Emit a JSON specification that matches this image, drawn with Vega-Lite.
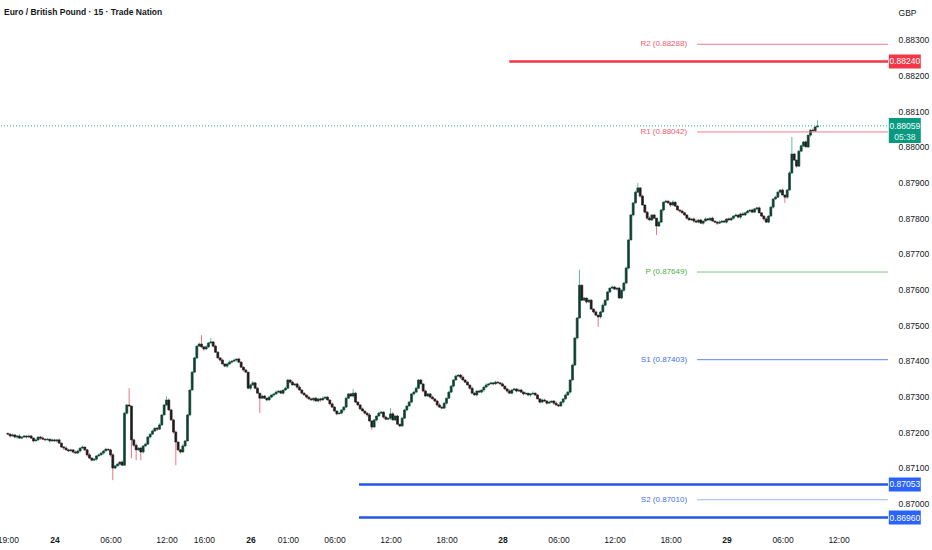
{
"$schema": "https://vega.github.io/schema/vega-lite/v6.json",
"width": 893, "height": 528,
"autosize": "none",
"padding": {"left": 0, "top": 0, "right": 39, "bottom": 22},
"background": "#ffffff",
"config": {"view": {"stroke": null}, "font": "Liberation Sans"},
"title": {"text": "Euro / British Pound · 15 · Trade Nation", "anchor": "start", "frame": "group", "offset": -16, "dx": 4, "fontSize": 8.5, "fontWeight": "bold", "color": "#131722", "font": "Liberation Sans Narrow, Liberation Sans"},
"resolve": {"scale": {"color": "independent"}},
"datasets": {
"candles": [
{"k":0,"o":0.87196,"h":0.87199,"l":0.87192,"c":0.87194},
{"k":1,"o":0.87194,"h":0.87196,"l":0.87185,"c":0.87189},
{"k":2,"o":0.87189,"h":0.87196,"l":0.87188,"c":0.87192},
{"k":3,"o":0.87192,"h":0.87193,"l":0.87183,"c":0.87186},
{"k":4,"o":0.87186,"h":0.87192,"l":0.87181,"c":0.87189},
{"k":5,"o":0.87189,"h":0.87194,"l":0.87181,"c":0.87183},
{"k":6,"o":0.87183,"h":0.87188,"l":0.87180,"c":0.87186},
{"k":7,"o":0.87186,"h":0.87192,"l":0.87185,"c":0.87189},
{"k":8,"o":0.87189,"h":0.87190,"l":0.87182,"c":0.87186},
{"k":9,"o":0.87186,"h":0.87193,"l":0.87184,"c":0.87189},
{"k":10,"o":0.87189,"h":0.87192,"l":0.87181,"c":0.87183},
{"k":11,"o":0.87183,"h":0.87185,"l":0.87171,"c":0.87175},
{"k":12,"o":0.87175,"h":0.87182,"l":0.87174,"c":0.87178},
{"k":13,"o":0.87178,"h":0.87187,"l":0.87175,"c":0.87186},
{"k":14,"o":0.87186,"h":0.87189,"l":0.87178,"c":0.87183},
{"k":15,"o":0.87183,"h":0.87188,"l":0.87178,"c":0.87180},
{"k":16,"o":0.87180,"h":0.87182,"l":0.87175,"c":0.87178},
{"k":17,"o":0.87178,"h":0.87183,"l":0.87177,"c":0.87180},
{"k":18,"o":0.87180,"h":0.87181,"l":0.87171,"c":0.87175},
{"k":19,"o":0.87175,"h":0.87182,"l":0.87173,"c":0.87178},
{"k":20,"o":0.87178,"h":0.87181,"l":0.87173,"c":0.87175},
{"k":21,"o":0.87175,"h":0.87180,"l":0.87171,"c":0.87178},
{"k":22,"o":0.87178,"h":0.87182,"l":0.87168,"c":0.87169},
{"k":23,"o":0.87169,"h":0.87170,"l":0.87155,"c":0.87158},
{"k":24,"o":0.87158,"h":0.87161,"l":0.87150,"c":0.87155},
{"k":25,"o":0.87155,"h":0.87160,"l":0.87148,"c":0.87150},
{"k":26,"o":0.87150,"h":0.87152,"l":0.87144,"c":0.87147},
{"k":27,"o":0.87147,"h":0.87153,"l":0.87146,"c":0.87150},
{"k":28,"o":0.87150,"h":0.87151,"l":0.87140,"c":0.87144},
{"k":29,"o":0.87144,"h":0.87148,"l":0.87139,"c":0.87141},
{"k":30,"o":0.87141,"h":0.87150,"l":0.87139,"c":0.87147},
{"k":31,"o":0.87147,"h":0.87157,"l":0.87143,"c":0.87155},
{"k":32,"o":0.87155,"h":0.87162,"l":0.87154,"c":0.87158},
{"k":33,"o":0.87158,"h":0.87159,"l":0.87147,"c":0.87150},
{"k":34,"o":0.87150,"h":0.87153,"l":0.87131,"c":0.87136},
{"k":35,"o":0.87136,"h":0.87141,"l":0.87125,"c":0.87127},
{"k":36,"o":0.87127,"h":0.87129,"l":0.87118,"c":0.87121},
{"k":37,"o":0.87121,"h":0.87127,"l":0.87120,"c":0.87124},
{"k":38,"o":0.87124,"h":0.87134,"l":0.87120,"c":0.87133},
{"k":39,"o":0.87133,"h":0.87140,"l":0.87131,"c":0.87136},
{"k":40,"o":0.87136,"h":0.87144,"l":0.87134,"c":0.87141},
{"k":41,"o":0.87141,"h":0.87149,"l":0.87137,"c":0.87147},
{"k":42,"o":0.87147,"h":0.87156,"l":0.87146,"c":0.87152},
{"k":43,"o":0.87152,"h":0.87153,"l":0.87147,"c":0.87150},
{"k":44,"o":0.87150,"h":0.87153,"l":0.87131,"c":0.87136},
{"k":45,"o":0.87136,"h":0.87141,"l":0.87065,"c":0.87099},
{"k":46,"o":0.87099,"h":0.87107,"l":0.87096,"c":0.87105},
{"k":47,"o":0.87105,"h":0.87113,"l":0.87104,"c":0.87110},
{"k":48,"o":0.87110,"h":0.87117,"l":0.87106,"c":0.87116},
{"k":49,"o":0.87116,"h":0.87120,"l":0.87105,"c":0.87107},
{"k":50,"o":0.87107,"h":0.87256,"l":0.87105,"c":0.87253},
{"k":51,"o":0.87253,"h":0.87278,"l":0.87249,"c":0.87276},
{"k":52,"o":0.87276,"h":0.87323,"l":0.87272,"c":0.87273},
{"k":53,"o":0.87273,"h":0.87274,"l":0.87127,"c":0.87178},
{"k":54,"o":0.87178,"h":0.87181,"l":0.87158,"c":0.87163},
{"k":55,"o":0.87163,"h":0.87168,"l":0.87121,"c":0.87150},
{"k":56,"o":0.87150,"h":0.87157,"l":0.87147,"c":0.87155},
{"k":57,"o":0.87155,"h":0.87158,"l":0.87121,"c":0.87144},
{"k":58,"o":0.87144,"h":0.87162,"l":0.87140,"c":0.87161},
{"k":59,"o":0.87161,"h":0.87170,"l":0.87159,"c":0.87166},
{"k":60,"o":0.87166,"h":0.87189,"l":0.87164,"c":0.87186},
{"k":61,"o":0.87186,"h":0.87196,"l":0.87182,"c":0.87194},
{"k":62,"o":0.87194,"h":0.87207,"l":0.87193,"c":0.87203},
{"k":63,"o":0.87203,"h":0.87212,"l":0.87200,"c":0.87211},
{"k":64,"o":0.87211,"h":0.87214,"l":0.87203,"c":0.87208},
{"k":65,"o":0.87208,"h":0.87225,"l":0.87206,"c":0.87220},
{"k":66,"o":0.87220,"h":0.87250,"l":0.87217,"c":0.87248},
{"k":67,"o":0.87248,"h":0.87279,"l":0.87247,"c":0.87276},
{"k":68,"o":0.87276,"h":0.87301,"l":0.87272,"c":0.87290},
{"k":69,"o":0.87290,"h":0.87294,"l":0.87260,"c":0.87262},
{"k":70,"o":0.87262,"h":0.87265,"l":0.87232,"c":0.87234},
{"k":71,"o":0.87234,"h":0.87236,"l":0.87196,"c":0.87200},
{"k":72,"o":0.87200,"h":0.87204,"l":0.87107,"c":0.87172},
{"k":73,"o":0.87172,"h":0.87173,"l":0.87147,"c":0.87150},
{"k":74,"o":0.87150,"h":0.87153,"l":0.87139,"c":0.87144},
{"k":75,"o":0.87144,"h":0.87166,"l":0.87142,"c":0.87161},
{"k":76,"o":0.87161,"h":0.87177,"l":0.87158,"c":0.87175},
{"k":77,"o":0.87175,"h":0.87251,"l":0.87174,"c":0.87248},
{"k":78,"o":0.87248,"h":0.87319,"l":0.87244,"c":0.87318},
{"k":79,"o":0.87318,"h":0.87372,"l":0.87316,"c":0.87368},
{"k":80,"o":0.87368,"h":0.87411,"l":0.87366,"c":0.87408},
{"k":81,"o":0.87408,"h":0.87443,"l":0.87404,"c":0.87441},
{"k":82,"o":0.87441,"h":0.87451,"l":0.87440,"c":0.87447},
{"k":83,"o":0.87447,"h":0.87472,"l":0.87436,"c":0.87439},
{"k":84,"o":0.87439,"h":0.87442,"l":0.87428,"c":0.87433},
{"k":85,"o":0.87433,"h":0.87444,"l":0.87431,"c":0.87439},
{"k":86,"o":0.87439,"h":0.87452,"l":0.87436,"c":0.87450},
{"k":87,"o":0.87450,"h":0.87464,"l":0.87449,"c":0.87453},
{"k":88,"o":0.87453,"h":0.87454,"l":0.87437,"c":0.87441},
{"k":89,"o":0.87441,"h":0.87445,"l":0.87422,"c":0.87424},
{"k":90,"o":0.87424,"h":0.87427,"l":0.87406,"c":0.87408},
{"k":91,"o":0.87408,"h":0.87410,"l":0.87398,"c":0.87402},
{"k":92,"o":0.87402,"h":0.87406,"l":0.87390,"c":0.87391},
{"k":93,"o":0.87391,"h":0.87392,"l":0.87382,"c":0.87385},
{"k":94,"o":0.87385,"h":0.87394,"l":0.87380,"c":0.87391},
{"k":95,"o":0.87391,"h":0.87401,"l":0.87389,"c":0.87396},
{"k":96,"o":0.87396,"h":0.87401,"l":0.87393,"c":0.87399},
{"k":97,"o":0.87399,"h":0.87405,"l":0.87398,"c":0.87402},
{"k":98,"o":0.87402,"h":0.87406,"l":0.87398,"c":0.87405},
{"k":99,"o":0.87405,"h":0.87409,"l":0.87394,"c":0.87396},
{"k":100,"o":0.87396,"h":0.87399,"l":0.87380,"c":0.87382},
{"k":101,"o":0.87382,"h":0.87384,"l":0.87370,"c":0.87374},
{"k":102,"o":0.87374,"h":0.87378,"l":0.87367,"c":0.87368},
{"k":103,"o":0.87368,"h":0.87369,"l":0.87320,"c":0.87323},
{"k":104,"o":0.87323,"h":0.87335,"l":0.87318,"c":0.87332},
{"k":105,"o":0.87332,"h":0.87343,"l":0.87330,"c":0.87338},
{"k":106,"o":0.87338,"h":0.87340,"l":0.87320,"c":0.87323},
{"k":107,"o":0.87323,"h":0.87326,"l":0.87308,"c":0.87309},
{"k":108,"o":0.87309,"h":0.87310,"l":0.87253,"c":0.87295},
{"k":109,"o":0.87295,"h":0.87305,"l":0.87293,"c":0.87301},
{"k":110,"o":0.87301,"h":0.87304,"l":0.87293,"c":0.87295},
{"k":111,"o":0.87295,"h":0.87297,"l":0.87286,"c":0.87290},
{"k":112,"o":0.87290,"h":0.87302,"l":0.87289,"c":0.87298},
{"k":113,"o":0.87298,"h":0.87305,"l":0.87295,"c":0.87304},
{"k":114,"o":0.87304,"h":0.87310,"l":0.87299,"c":0.87307},
{"k":115,"o":0.87307,"h":0.87317,"l":0.87305,"c":0.87312},
{"k":116,"o":0.87312,"h":0.87317,"l":0.87309,"c":0.87315},
{"k":117,"o":0.87315,"h":0.87318,"l":0.87308,"c":0.87309},
{"k":118,"o":0.87309,"h":0.87319,"l":0.87305,"c":0.87318},
{"k":119,"o":0.87318,"h":0.87327,"l":0.87316,"c":0.87323},
{"k":120,"o":0.87323,"h":0.87349,"l":0.87321,"c":0.87346},
{"k":121,"o":0.87346,"h":0.87348,"l":0.87336,"c":0.87340},
{"k":122,"o":0.87340,"h":0.87344,"l":0.87331,"c":0.87332},
{"k":123,"o":0.87332,"h":0.87336,"l":0.87329,"c":0.87335},
{"k":124,"o":0.87335,"h":0.87338,"l":0.87321,"c":0.87326},
{"k":125,"o":0.87326,"h":0.87331,"l":0.87316,"c":0.87318},
{"k":126,"o":0.87318,"h":0.87320,"l":0.87306,"c":0.87309},
{"k":127,"o":0.87309,"h":0.87312,"l":0.87303,"c":0.87304},
{"k":128,"o":0.87304,"h":0.87305,"l":0.87294,"c":0.87298},
{"k":129,"o":0.87298,"h":0.87302,"l":0.87291,"c":0.87293},
{"k":130,"o":0.87293,"h":0.87296,"l":0.87288,"c":0.87290},
{"k":131,"o":0.87290,"h":0.87297,"l":0.87286,"c":0.87295},
{"k":132,"o":0.87295,"h":0.87299,"l":0.87286,"c":0.87287},
{"k":133,"o":0.87287,"h":0.87294,"l":0.87284,"c":0.87293},
{"k":134,"o":0.87293,"h":0.87296,"l":0.87285,"c":0.87290},
{"k":135,"o":0.87290,"h":0.87300,"l":0.87288,"c":0.87295},
{"k":136,"o":0.87295,"h":0.87300,"l":0.87292,"c":0.87298},
{"k":137,"o":0.87298,"h":0.87301,"l":0.87289,"c":0.87290},
{"k":138,"o":0.87290,"h":0.87291,"l":0.87275,"c":0.87279},
{"k":139,"o":0.87279,"h":0.87283,"l":0.87268,"c":0.87270},
{"k":140,"o":0.87270,"h":0.87273,"l":0.87257,"c":0.87259},
{"k":141,"o":0.87259,"h":0.87261,"l":0.87247,"c":0.87251},
{"k":142,"o":0.87251,"h":0.87257,"l":0.87250,"c":0.87253},
{"k":143,"o":0.87253,"h":0.87263,"l":0.87250,"c":0.87262},
{"k":144,"o":0.87262,"h":0.87273,"l":0.87257,"c":0.87270},
{"k":145,"o":0.87270,"h":0.87300,"l":0.87268,"c":0.87295},
{"k":146,"o":0.87295,"h":0.87309,"l":0.87292,"c":0.87307},
{"k":147,"o":0.87307,"h":0.87310,"l":0.87300,"c":0.87301},
{"k":148,"o":0.87301,"h":0.87321,"l":0.87297,"c":0.87309},
{"k":149,"o":0.87309,"h":0.87313,"l":0.87282,"c":0.87284},
{"k":150,"o":0.87284,"h":0.87287,"l":0.87274,"c":0.87276},
{"k":151,"o":0.87276,"h":0.87278,"l":0.87261,"c":0.87265},
{"k":152,"o":0.87265,"h":0.87269,"l":0.87258,"c":0.87259},
{"k":153,"o":0.87259,"h":0.87260,"l":0.87250,"c":0.87253},
{"k":154,"o":0.87253,"h":0.87256,"l":0.87243,"c":0.87248},
{"k":155,"o":0.87248,"h":0.87253,"l":0.87229,"c":0.87231},
{"k":156,"o":0.87231,"h":0.87233,"l":0.87206,"c":0.87214},
{"k":157,"o":0.87214,"h":0.87237,"l":0.87213,"c":0.87234},
{"k":158,"o":0.87234,"h":0.87246,"l":0.87230,"c":0.87245},
{"k":159,"o":0.87245,"h":0.87257,"l":0.87243,"c":0.87253},
{"k":160,"o":0.87253,"h":0.87259,"l":0.87251,"c":0.87256},
{"k":161,"o":0.87256,"h":0.87258,"l":0.87238,"c":0.87242},
{"k":162,"o":0.87242,"h":0.87246,"l":0.87235,"c":0.87236},
{"k":163,"o":0.87236,"h":0.87240,"l":0.87233,"c":0.87239},
{"k":164,"o":0.87239,"h":0.87267,"l":0.87234,"c":0.87251},
{"k":165,"o":0.87251,"h":0.87256,"l":0.87232,"c":0.87234},
{"k":166,"o":0.87234,"h":0.87247,"l":0.87231,"c":0.87245},
{"k":167,"o":0.87245,"h":0.87248,"l":0.87221,"c":0.87222},
{"k":168,"o":0.87222,"h":0.87223,"l":0.87213,"c":0.87217},
{"k":169,"o":0.87217,"h":0.87243,"l":0.87215,"c":0.87239},
{"k":170,"o":0.87239,"h":0.87265,"l":0.87237,"c":0.87262},
{"k":171,"o":0.87262,"h":0.87275,"l":0.87258,"c":0.87273},
{"k":172,"o":0.87273,"h":0.87288,"l":0.87272,"c":0.87284},
{"k":173,"o":0.87284,"h":0.87308,"l":0.87281,"c":0.87307},
{"k":174,"o":0.87307,"h":0.87315,"l":0.87302,"c":0.87312},
{"k":175,"o":0.87312,"h":0.87328,"l":0.87310,"c":0.87323},
{"k":176,"o":0.87323,"h":0.87348,"l":0.87320,"c":0.87346},
{"k":177,"o":0.87346,"h":0.87349,"l":0.87334,"c":0.87335},
{"k":178,"o":0.87335,"h":0.87336,"l":0.87311,"c":0.87315},
{"k":179,"o":0.87315,"h":0.87319,"l":0.87299,"c":0.87301},
{"k":180,"o":0.87301,"h":0.87310,"l":0.87299,"c":0.87307},
{"k":181,"o":0.87307,"h":0.87309,"l":0.87294,"c":0.87298},
{"k":182,"o":0.87298,"h":0.87302,"l":0.87292,"c":0.87293},
{"k":183,"o":0.87293,"h":0.87294,"l":0.87284,"c":0.87287},
{"k":184,"o":0.87287,"h":0.87290,"l":0.87271,"c":0.87276},
{"k":185,"o":0.87276,"h":0.87281,"l":0.87268,"c":0.87270},
{"k":186,"o":0.87270,"h":0.87272,"l":0.87264,"c":0.87267},
{"k":187,"o":0.87267,"h":0.87284,"l":0.87266,"c":0.87281},
{"k":188,"o":0.87281,"h":0.87296,"l":0.87277,"c":0.87295},
{"k":189,"o":0.87295,"h":0.87316,"l":0.87293,"c":0.87312},
{"k":190,"o":0.87312,"h":0.87332,"l":0.87310,"c":0.87329},
{"k":191,"o":0.87329,"h":0.87348,"l":0.87325,"c":0.87346},
{"k":192,"o":0.87346,"h":0.87361,"l":0.87345,"c":0.87357},
{"k":193,"o":0.87357,"h":0.87361,"l":0.87354,"c":0.87360},
{"k":194,"o":0.87360,"h":0.87363,"l":0.87349,"c":0.87354},
{"k":195,"o":0.87354,"h":0.87359,"l":0.87344,"c":0.87346},
{"k":196,"o":0.87346,"h":0.87348,"l":0.87337,"c":0.87340},
{"k":197,"o":0.87340,"h":0.87343,"l":0.87331,"c":0.87332},
{"k":198,"o":0.87332,"h":0.87333,"l":0.87319,"c":0.87323},
{"k":199,"o":0.87323,"h":0.87327,"l":0.87307,"c":0.87309},
{"k":200,"o":0.87309,"h":0.87312,"l":0.87302,"c":0.87304},
{"k":201,"o":0.87304,"h":0.87317,"l":0.87300,"c":0.87315},
{"k":202,"o":0.87315,"h":0.87319,"l":0.87311,"c":0.87312},
{"k":203,"o":0.87312,"h":0.87319,"l":0.87309,"c":0.87318},
{"k":204,"o":0.87318,"h":0.87329,"l":0.87313,"c":0.87326},
{"k":205,"o":0.87326,"h":0.87337,"l":0.87324,"c":0.87332},
{"k":206,"o":0.87332,"h":0.87337,"l":0.87329,"c":0.87335},
{"k":207,"o":0.87335,"h":0.87341,"l":0.87334,"c":0.87338},
{"k":208,"o":0.87338,"h":0.87339,"l":0.87331,"c":0.87335},
{"k":209,"o":0.87335,"h":0.87344,"l":0.87333,"c":0.87340},
{"k":210,"o":0.87340,"h":0.87343,"l":0.87336,"c":0.87338},
{"k":211,"o":0.87338,"h":0.87340,"l":0.87331,"c":0.87335},
{"k":212,"o":0.87335,"h":0.87339,"l":0.87328,"c":0.87329},
{"k":213,"o":0.87329,"h":0.87330,"l":0.87318,"c":0.87321},
{"k":214,"o":0.87321,"h":0.87324,"l":0.87310,"c":0.87315},
{"k":215,"o":0.87315,"h":0.87320,"l":0.87307,"c":0.87309},
{"k":216,"o":0.87309,"h":0.87320,"l":0.87306,"c":0.87318},
{"k":217,"o":0.87318,"h":0.87324,"l":0.87317,"c":0.87321},
{"k":218,"o":0.87321,"h":0.87322,"l":0.87311,"c":0.87315},
{"k":219,"o":0.87315,"h":0.87322,"l":0.87313,"c":0.87318},
{"k":220,"o":0.87318,"h":0.87321,"l":0.87310,"c":0.87312},
{"k":221,"o":0.87312,"h":0.87314,"l":0.87303,"c":0.87307},
{"k":222,"o":0.87307,"h":0.87313,"l":0.87306,"c":0.87309},
{"k":223,"o":0.87309,"h":0.87310,"l":0.87301,"c":0.87304},
{"k":224,"o":0.87304,"h":0.87310,"l":0.87299,"c":0.87307},
{"k":225,"o":0.87307,"h":0.87314,"l":0.87305,"c":0.87309},
{"k":226,"o":0.87309,"h":0.87311,"l":0.87301,"c":0.87304},
{"k":227,"o":0.87304,"h":0.87307,"l":0.87292,"c":0.87293},
{"k":228,"o":0.87293,"h":0.87294,"l":0.87280,"c":0.87284},
{"k":229,"o":0.87284,"h":0.87294,"l":0.87282,"c":0.87290},
{"k":230,"o":0.87290,"h":0.87293,"l":0.87285,"c":0.87287},
{"k":231,"o":0.87287,"h":0.87289,"l":0.87277,"c":0.87281},
{"k":232,"o":0.87281,"h":0.87288,"l":0.87280,"c":0.87284},
{"k":233,"o":0.87284,"h":0.87288,"l":0.87281,"c":0.87287},
{"k":234,"o":0.87287,"h":0.87290,"l":0.87276,"c":0.87281},
{"k":235,"o":0.87281,"h":0.87286,"l":0.87274,"c":0.87276},
{"k":236,"o":0.87276,"h":0.87278,"l":0.87270,"c":0.87273},
{"k":237,"o":0.87273,"h":0.87287,"l":0.87272,"c":0.87284},
{"k":238,"o":0.87284,"h":0.87294,"l":0.87280,"c":0.87293},
{"k":239,"o":0.87293,"h":0.87308,"l":0.87291,"c":0.87304},
{"k":240,"o":0.87304,"h":0.87315,"l":0.87302,"c":0.87312},
{"k":241,"o":0.87312,"h":0.87348,"l":0.87308,"c":0.87346},
{"k":242,"o":0.87346,"h":0.87392,"l":0.87345,"c":0.87388},
{"k":243,"o":0.87388,"h":0.87465,"l":0.87385,"c":0.87464},
{"k":244,"o":0.87464,"h":0.87523,"l":0.87459,"c":0.87520},
{"k":245,"o":0.87520,"h":0.87655,"l":0.87518,"c":0.87612},
{"k":246,"o":0.87612,"h":0.87614,"l":0.87567,"c":0.87570},
{"k":247,"o":0.87570,"h":0.87579,"l":0.87569,"c":0.87576},
{"k":248,"o":0.87576,"h":0.87577,"l":0.87561,"c":0.87565},
{"k":249,"o":0.87565,"h":0.87574,"l":0.87563,"c":0.87570},
{"k":250,"o":0.87570,"h":0.87573,"l":0.87543,"c":0.87545},
{"k":251,"o":0.87545,"h":0.87547,"l":0.87533,"c":0.87537},
{"k":252,"o":0.87537,"h":0.87541,"l":0.87527,"c":0.87528},
{"k":253,"o":0.87528,"h":0.87529,"l":0.87495,"c":0.87523},
{"k":254,"o":0.87523,"h":0.87540,"l":0.87518,"c":0.87537},
{"k":255,"o":0.87537,"h":0.87561,"l":0.87535,"c":0.87556},
{"k":256,"o":0.87556,"h":0.87572,"l":0.87553,"c":0.87570},
{"k":257,"o":0.87570,"h":0.87596,"l":0.87569,"c":0.87593},
{"k":258,"o":0.87593,"h":0.87605,"l":0.87589,"c":0.87604},
{"k":259,"o":0.87604,"h":0.87611,"l":0.87602,"c":0.87607},
{"k":260,"o":0.87607,"h":0.87610,"l":0.87599,"c":0.87601},
{"k":261,"o":0.87601,"h":0.87606,"l":0.87597,"c":0.87604},
{"k":262,"o":0.87604,"h":0.87608,"l":0.87575,"c":0.87576},
{"k":263,"o":0.87576,"h":0.87599,"l":0.87573,"c":0.87598},
{"k":264,"o":0.87598,"h":0.87621,"l":0.87593,"c":0.87618},
{"k":265,"o":0.87618,"h":0.87665,"l":0.87616,"c":0.87660},
{"k":266,"o":0.87660,"h":0.87741,"l":0.87657,"c":0.87739},
{"k":267,"o":0.87739,"h":0.87812,"l":0.87738,"c":0.87809},
{"k":268,"o":0.87809,"h":0.87844,"l":0.87805,"c":0.87843},
{"k":269,"o":0.87843,"h":0.87877,"l":0.87841,"c":0.87873},
{"k":270,"o":0.87873,"h":0.87899,"l":0.87871,"c":0.87885},
{"k":271,"o":0.87885,"h":0.87887,"l":0.87858,"c":0.87862},
{"k":272,"o":0.87862,"h":0.87866,"l":0.87836,"c":0.87837},
{"k":273,"o":0.87837,"h":0.87838,"l":0.87814,"c":0.87817},
{"k":274,"o":0.87817,"h":0.87820,"l":0.87795,"c":0.87800},
{"k":275,"o":0.87800,"h":0.87805,"l":0.87793,"c":0.87795},
{"k":276,"o":0.87795,"h":0.87811,"l":0.87792,"c":0.87809},
{"k":277,"o":0.87809,"h":0.87812,"l":0.87799,"c":0.87800},
{"k":278,"o":0.87800,"h":0.87801,"l":0.87753,"c":0.87778},
{"k":279,"o":0.87778,"h":0.87793,"l":0.87776,"c":0.87789},
{"k":280,"o":0.87789,"h":0.87826,"l":0.87787,"c":0.87823},
{"k":281,"o":0.87823,"h":0.87847,"l":0.87819,"c":0.87845},
{"k":282,"o":0.87845,"h":0.87852,"l":0.87844,"c":0.87848},
{"k":283,"o":0.87848,"h":0.87849,"l":0.87840,"c":0.87843},
{"k":284,"o":0.87843,"h":0.87846,"l":0.87832,"c":0.87837},
{"k":285,"o":0.87837,"h":0.87850,"l":0.87835,"c":0.87845},
{"k":286,"o":0.87845,"h":0.87847,"l":0.87831,"c":0.87834},
{"k":287,"o":0.87834,"h":0.87837,"l":0.87822,"c":0.87823},
{"k":288,"o":0.87823,"h":0.87824,"l":0.87816,"c":0.87820},
{"k":289,"o":0.87820,"h":0.87824,"l":0.87813,"c":0.87815},
{"k":290,"o":0.87815,"h":0.87818,"l":0.87807,"c":0.87809},
{"k":291,"o":0.87809,"h":0.87811,"l":0.87796,"c":0.87800},
{"k":292,"o":0.87800,"h":0.87804,"l":0.87794,"c":0.87795},
{"k":293,"o":0.87795,"h":0.87799,"l":0.87792,"c":0.87798},
{"k":294,"o":0.87798,"h":0.87801,"l":0.87787,"c":0.87792},
{"k":295,"o":0.87792,"h":0.87797,"l":0.87787,"c":0.87789},
{"k":296,"o":0.87789,"h":0.87797,"l":0.87786,"c":0.87795},
{"k":297,"o":0.87795,"h":0.87798,"l":0.87785,"c":0.87786},
{"k":298,"o":0.87786,"h":0.87793,"l":0.87782,"c":0.87792},
{"k":299,"o":0.87792,"h":0.87802,"l":0.87790,"c":0.87798},
{"k":300,"o":0.87798,"h":0.87801,"l":0.87793,"c":0.87795},
{"k":301,"o":0.87795,"h":0.87802,"l":0.87791,"c":0.87800},
{"k":302,"o":0.87800,"h":0.87804,"l":0.87791,"c":0.87792},
{"k":303,"o":0.87792,"h":0.87793,"l":0.87786,"c":0.87789},
{"k":304,"o":0.87789,"h":0.87792,"l":0.87781,"c":0.87786},
{"k":305,"o":0.87786,"h":0.87794,"l":0.87784,"c":0.87789},
{"k":306,"o":0.87789,"h":0.87794,"l":0.87786,"c":0.87792},
{"k":307,"o":0.87792,"h":0.87795,"l":0.87788,"c":0.87789},
{"k":308,"o":0.87789,"h":0.87799,"l":0.87785,"c":0.87798},
{"k":309,"o":0.87798,"h":0.87802,"l":0.87793,"c":0.87795},
{"k":310,"o":0.87795,"h":0.87803,"l":0.87793,"c":0.87800},
{"k":311,"o":0.87800,"h":0.87808,"l":0.87796,"c":0.87806},
{"k":312,"o":0.87806,"h":0.87813,"l":0.87805,"c":0.87809},
{"k":313,"o":0.87809,"h":0.87810,"l":0.87800,"c":0.87803},
{"k":314,"o":0.87803,"h":0.87815,"l":0.87798,"c":0.87812},
{"k":315,"o":0.87812,"h":0.87817,"l":0.87807,"c":0.87809},
{"k":316,"o":0.87809,"h":0.87817,"l":0.87806,"c":0.87815},
{"k":317,"o":0.87815,"h":0.87823,"l":0.87814,"c":0.87820},
{"k":318,"o":0.87820,"h":0.87824,"l":0.87816,"c":0.87823},
{"k":319,"o":0.87823,"h":0.87827,"l":0.87815,"c":0.87817},
{"k":320,"o":0.87817,"h":0.87829,"l":0.87815,"c":0.87826},
{"k":321,"o":0.87826,"h":0.87831,"l":0.87822,"c":0.87829},
{"k":322,"o":0.87829,"h":0.87833,"l":0.87814,"c":0.87815},
{"k":323,"o":0.87815,"h":0.87816,"l":0.87803,"c":0.87806},
{"k":324,"o":0.87806,"h":0.87809,"l":0.87793,"c":0.87798},
{"k":325,"o":0.87798,"h":0.87803,"l":0.87787,"c":0.87789},
{"k":326,"o":0.87789,"h":0.87808,"l":0.87786,"c":0.87806},
{"k":327,"o":0.87806,"h":0.87834,"l":0.87805,"c":0.87831},
{"k":328,"o":0.87831,"h":0.87855,"l":0.87827,"c":0.87854},
{"k":329,"o":0.87854,"h":0.87863,"l":0.87852,"c":0.87859},
{"k":330,"o":0.87859,"h":0.87876,"l":0.87857,"c":0.87873},
{"k":331,"o":0.87873,"h":0.87881,"l":0.87869,"c":0.87879},
{"k":332,"o":0.87879,"h":0.87883,"l":0.87864,"c":0.87865},
{"k":333,"o":0.87865,"h":0.87866,"l":0.87843,"c":0.87859},
{"k":334,"o":0.87859,"h":0.87882,"l":0.87854,"c":0.87879},
{"k":335,"o":0.87879,"h":0.87932,"l":0.87877,"c":0.87927},
{"k":336,"o":0.87927,"h":0.88028,"l":0.87924,"c":0.87980},
{"k":337,"o":0.87980,"h":0.87983,"l":0.87962,"c":0.87963},
{"k":338,"o":0.87963,"h":0.87964,"l":0.87942,"c":0.87946},
{"k":339,"o":0.87946,"h":0.87992,"l":0.87944,"c":0.87988},
{"k":340,"o":0.87988,"h":0.88006,"l":0.87986,"c":0.88003},
{"k":341,"o":0.88003,"h":0.88016,"l":0.87999,"c":0.88014},
{"k":342,"o":0.88014,"h":0.88018,"l":0.87999,"c":0.88000},
{"k":343,"o":0.88000,"h":0.88034,"l":0.87997,"c":0.88033},
{"k":344,"o":0.88033,"h":0.88050,"l":0.88028,"c":0.88047},
{"k":345,"o":0.88047,"h":0.88052,"l":0.88043,"c":0.88045},
{"k":346,"o":0.88045,"h":0.88058,"l":0.88042,"c":0.88056},
{"k":347,"o":0.88056,"h":0.88075,"l":0.88055,"c":0.88059}
],
"pivots": [
{"name":"R2","level":0.88288,"label":"R2 (0.88288)","start":295.4},
{"name":"R1","level":0.88042,"label":"R1 (0.88042)","start":295.4},
{"name":"P","level":0.87649,"label":"P (0.87649)","start":295.4},
{"name":"S1","level":0.87403,"label":"S1 (0.87403)","start":295.4},
{"name":"S2","level":0.87010,"label":"S2 (0.87010)","start":295.4}
],
"zones": [
{"side":"resistance","level":0.88240,"label":"0.88240","start":214.9},
{"side":"support","level":0.87053,"label":"0.87053","start":150.5},
{"side":"support","level":0.86960,"label":"0.86960","start":150.5}
],
"last": [{"price":0.88059,"label":"0.88059","timer":"05:38"}]
},
"layer": [
{
"data": {"name": "candles"},
"mark": {"type": "rule", "strokeWidth": 1},
"encoding": {
"x": {"field": "k", "type": "quantitative", "scale": {"domain": [-1.2, 377.2], "nice": false, "zero": false},
"axis": {"values": [0,20,44,68,84,104,120,140,164,188,212,236,260,284,308,332,356],
"labelExpr": "['19:00','24','06:00','12:00','16:00','26','01:00','06:00','12:00','18:00','28','06:00','12:00','18:00','29','06:00','12:00'][indexof([0,20,44,68,84,104,120,140,164,188,212,236,260,284,308,332,356], datum.value)]",
"title": null, "grid": false, "domain": false, "ticks": false, "labelPadding": 7, "labelFontSize": 8.5, "labelColor": "#131722", "labelFlush": false, "labelOverlap": false, "labelBound": false,
"labelFontWeight": {"condition": {"test": "datum.value == 20 || datum.value == 104 || datum.value == 212 || datum.value == 308", "value": "bold"}, "value": "normal"}}},
"y": {"field": "l", "type": "quantitative", "scale": {"domain": [0.869308, 0.884122], "nice": false, "zero": false},
"axis": {"orient": "right", "values": [0.870,0.871,0.872,0.873,0.874,0.875,0.876,0.877,0.878,0.879,0.880,0.881,0.882,0.883], "format": ".5f",
"grid": false, "domain": false, "ticks": false, "labelPadding": 5, "labelFontSize": 8.5, "labelColor": "#131722", "labelAlign": "left", "labelOverlap": false,
"title": "GBP", "titleAngle": 0, "titleX": 14, "titleY": 12, "titleAlign": "center", "titleBaseline": "middle", "titleFontSize": 8.5, "titleFontWeight": "normal", "titleColor": "#131722"}},
"y2": {"field": "h"},
"color": {"condition": {"test": "datum.c >= datum.o", "value": "#5fc3a3"}, "value": "#ee7585"}
}
},
{
"data": {"name": "candles"},
"mark": {"type": "bar", "width": 2, "strokeWidth": 0.6},
"encoding": {
"x": {"field": "k", "type": "quantitative"},
"y": {"field": "o", "type": "quantitative"},
"y2": {"field": "c"},
"color": {"condition": {"test": "datum.c >= datum.o", "value": "#0f3f33"}, "value": "#1d1d1d"},
"stroke": {"condition": {"test": "datum.c >= datum.o", "value": "#0f3f33"}, "value": "#1d1d1d"}
}
},
{
"data": {"name": "last"},
"mark": {"type": "rule", "color": "#089981", "strokeWidth": 1, "strokeDash": [1, 2], "opacity": 0.9},
"encoding": {"y": {"field": "price", "type": "quantitative"}}
},
{
"data": {"name": "pivots"},
"mark": {"type": "rule", "strokeWidth": 1},
"encoding": {
"x": {"field": "start", "type": "quantitative"},
"x2": {"datum": 377.2},
"y": {"field": "level", "type": "quantitative"},
"color": {"field": "name", "type": "nominal", "legend": null, "scale": {"domain": ["R2","R1","P","S1","S2"], "range": ["#f3788a","#f3788a","#7cc47f","#5a86ee","#9db7f5"]}}
}
},
{
"data": {"name": "pivots"},
"mark": {"type": "text", "align": "right", "baseline": "middle", "dx": -10, "fontSize": 8},
"encoding": {
"x": {"field": "start", "type": "quantitative"},
"y": {"field": "level", "type": "quantitative"},
"text": {"field": "label"},
"color": {"field": "name", "type": "nominal", "legend": null, "scale": {"domain": ["R2","R1","P","S1","S2"], "range": ["#ee5c70","#ee5c70","#4caf50","#3f6fe8","#3f6fe8"]}}
}
},
{
"data": {"name": "zones"},
"mark": {"type": "rule", "strokeWidth": 2.5},
"encoding": {
"x": {"field": "start", "type": "quantitative"},
"x2": {"datum": 377.2},
"y": {"field": "level", "type": "quantitative"},
"color": {"field": "side", "type": "nominal", "legend": null, "scale": {"domain": ["resistance","support"], "range": ["#f23645","#2456e8"]}}
}
},
{
"data": {"name": "zones"},
"mark": {"type": "point", "shape": "M-1.6,-0.7H1.6V0.7H-1.6Z", "size": 400, "filled": true, "opacity": 1, "strokeWidth": 0},
"encoding": {
"x": {"datum": 384.4},
"y": {"field": "level", "type": "quantitative"},
"color": {"field": "side", "type": "nominal", "legend": null, "scale": {"domain": ["resistance","support"], "range": ["#f23645","#2962ff"]}}
}
},
{
"data": {"name": "zones"},
"mark": {"type": "text", "align": "center", "baseline": "middle", "fontSize": 8.5, "color": "#ffffff"},
"encoding": {
"x": {"datum": 384.4},
"y": {"field": "level", "type": "quantitative"},
"text": {"field": "label"}
}
},
{
"data": {"name": "last"},
"mark": {"type": "point", "shape": "M-1.6,-0.8H1.6V1.7H-1.6Z", "size": 400, "filled": true, "opacity": 1, "strokeWidth": 0, "color": "#089981"},
"encoding": {
"x": {"datum": 384.4},
"y": {"field": "price", "type": "quantitative"}
}
},
{
"data": {"name": "last"},
"mark": {"type": "text", "align": "center", "baseline": "middle", "fontSize": 8.5, "color": "#ffffff"},
"encoding": {
"x": {"datum": 384.4},
"y": {"field": "price", "type": "quantitative"},
"text": {"field": "label"}
}
},
{
"data": {"name": "last"},
"mark": {"type": "text", "align": "center", "baseline": "middle", "fontSize": 8.5, "dy": 11, "color": "#e6f5f1"},
"encoding": {
"x": {"datum": 384.4},
"y": {"field": "price", "type": "quantitative"},
"text": {"field": "timer"}
}
}
]
}
